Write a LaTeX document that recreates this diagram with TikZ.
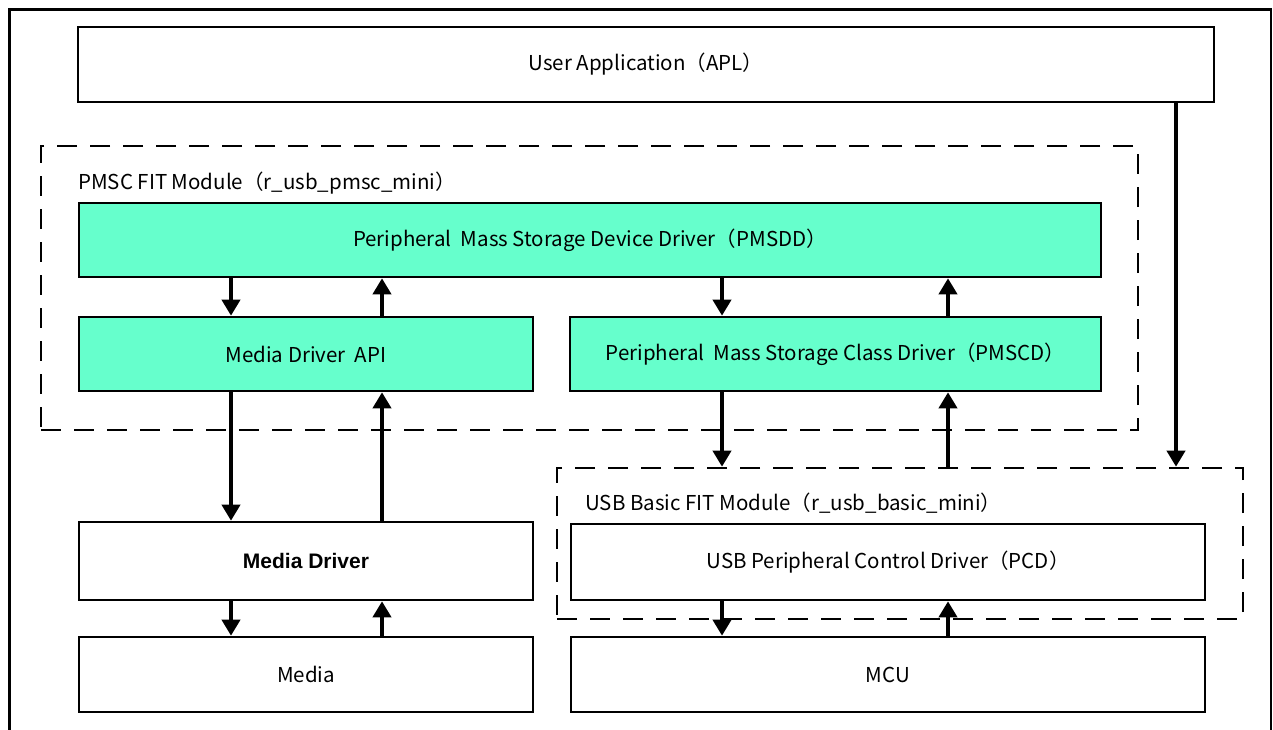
\documentclass[tikz,border=0pt]{standalone}
\usepackage{fontspec}
\setmainfont{Noto Sans CJK JP}
\newfontfamily\boldsans{Liberation Sans}[BoldFont={Liberation Sans Bold}]
\usetikzlibrary{arrows.meta}
\definecolor{aqua}{HTML}{66FFCC}
\tikzset{
  box/.style={draw, line width=2.6pt, minimum width=454pt, minimum height=75pt, inner sep=0pt, font=\fontsize{20.5}{24}\selectfont, fill=white},
  greenbox/.style={box, fill=aqua},
  modbox/.style={draw, line width=2.6pt, dash pattern=on 20pt off 13pt, inner sep=0pt},
  lbl/.style={anchor=west, inner sep=0pt, font=\fontsize{20.5}{24}\selectfont},
  arr/.style={line width=3.8pt, -{Triangle[width=18pt,length=16pt]}},
  frame/.style={line width=2.6pt}
}
\begin{document}
\begin{tikzpicture}[x=1pt,y=-1pt]
\useasboundingbox (0,0) rectangle (1273,730);
% outer frame (cropped at the bottom)
\draw[frame] (9.5,731) -- (9.5,9.5) -- (1271,9.5) -- (1271,731);
% module boundaries
\node[modbox, minimum width=1097pt, minimum height=284pt] (pmsc) at (589.5,288) {};
\node[modbox, minimum width=686pt, minimum height=151pt] (usbmod) at (900,543.5) {};
\node[lbl] (pmsclbl) at (78,183) {PMSC FIT Module（r\_usb\_pmsc\_mini）};
\node[lbl] (usblbl) at (585,503) {USB Basic FIT Module（r\_usb\_basic\_mini）};
% boxes
\node[box, minimum width=1136pt] (apl) at (646,64.5) {User Application（APL）};
\node[greenbox, minimum width=1022pt, minimum height=74pt] (pmsdd) at (590,240) {Peripheral\ \ Mass Storage Device Driver（PMSDD）};
\node[greenbox, minimum height=74pt] (mda) at (306,354) {Media Driver\ \ API};
\node[greenbox, minimum width=531pt, minimum height=74pt] (pmscd) at (835.5,354) {Peripheral\ \ Mass Storage Class Driver（PMSCD）};
\node[box, minimum height=78pt] (md) at (306,561) {\boldsans\fontsize{21}{24}\selectfont\bfseries Media Driver};
\node[box] (media) at (306,674.5) {Media};
\node[box, minimum width=634pt, minimum height=76pt] (pcd) at (888,562) {USB Peripheral Control Driver（PCD）};
\node[box, minimum width=634pt] (mcu) at (888,674.5) {MCU};
% arrow columns
\coordinate (c1) at (231,0);
\coordinate (c2) at (382,0);
\coordinate (c3) at (722,0);
\coordinate (c4) at (948,0);
\coordinate (c5) at (1176,0);
% arrows
\draw[arr] (pmsdd.south -| c1) -- (mda.north -| c1);
\draw[arr] (mda.north -| c2) -- (pmsdd.south -| c2);
\draw[arr] (pmsdd.south -| c3) -- (pmscd.north -| c3);
\draw[arr] (pmscd.north -| c4) -- (pmsdd.south -| c4);
\draw[arr] (mda.south -| c1) -- (md.north -| c1);
\draw[arr] (md.north -| c2) -- (mda.south -| c2);
\draw[arr] (md.south -| c1) -- (media.north -| c1);
\draw[arr] (media.north -| c2) -- (md.south -| c2);
\draw[arr] (pmscd.south -| c3) -- (usbmod.north -| c3);
\draw[arr] (usbmod.north -| c4) -- (pmscd.south -| c4);
\draw[arr] (pcd.south -| c3) -- (mcu.north -| c3);
\draw[arr] (mcu.north -| c4) -- (pcd.south -| c4);
\draw[arr] (apl.south -| c5) -- (usbmod.north -| c5);
\end{tikzpicture}
\end{document}
